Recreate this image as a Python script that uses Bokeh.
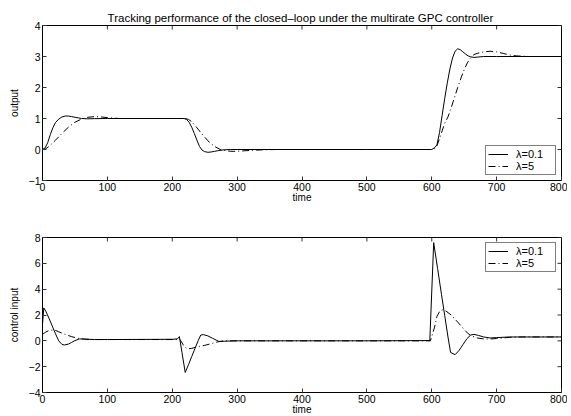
import math
from bokeh.plotting import figure
from bokeh.models import Range1d, Legend, LegendItem, FixedTicker
from bokeh.layouts import column
from bokeh.embed import file_html
from bokeh.resources import INLINE

# ---------------- data ----------------
x_ticks = [0, 100, 200, 300, 400, 500, 600, 700, 800]
y_ticks_out = [-1, 0, 1, 2, 3, 4]
y_ticks_u = [-4, -2, 0, 2, 4, 6, 8]

t_y01 = [0, 4, 8, 12, 16, 20, 25, 30, 35, 40, 45, 50, 55, 60, 70, 80, 100, 150, 200, 218,
         222, 226, 230, 234, 238, 242, 246, 250, 255, 260, 265, 270, 280, 290, 300, 400, 500, 600, 604, 608,
         612, 616, 620, 624, 628, 632, 636, 640, 644, 648, 652, 656, 660, 665, 670, 680, 700, 750, 800]
y01 = [0, 0.05, 0.22, 0.48, 0.7, 0.87, 0.98, 1.05, 1.08, 1.08, 1.06, 1.04, 1.02, 1.0, 0.99, 0.995, 1.0, 1.0, 1.0, 1.0,
       0.97, 0.88, 0.72, 0.52, 0.3, 0.1, -0.02, -0.07, -0.09, -0.08, -0.06, -0.04, -0.01, 0.0, 0.0, 0.0, 0.0, 0.0, 0.05, 0.15,
       0.55, 1.1, 1.65, 2.15, 2.6, 2.95, 3.17, 3.25, 3.22, 3.15, 3.08, 3.02, 2.99, 2.97, 2.98, 3.0, 3.0, 3.0, 3.0]

t_y5 = [0, 5, 10, 20, 30, 40, 50, 60, 70, 80, 90, 100, 110, 120, 200, 220, 225, 230, 235, 245,
        255, 265, 275, 285, 295, 305, 320, 340, 360, 400, 500, 600, 604, 608, 612, 616, 620, 625, 630, 635,
        640, 645, 650, 655, 660, 665, 670, 680, 690, 700, 710, 720, 730, 750, 800]
y5 = [0, 0.02, 0.1, 0.3, 0.52, 0.72, 0.88, 0.98, 1.04, 1.06, 1.05, 1.03, 1.01, 1.0, 1.0, 1.0, 0.97, 0.9, 0.78, 0.52,
      0.28, 0.1, -0.01, -0.05, -0.06, -0.05, -0.03, -0.01, 0.0, 0.0, 0.0, 0.0, 0.02, 0.12, 0.35, 0.6, 0.85, 1.05, 1.35, 1.67,
      2.0, 2.3, 2.58, 2.8, 2.96, 3.06, 3.1, 3.15, 3.17, 3.15, 3.1, 3.05, 3.02, 3.0, 3.0]

t_u01 = [0, 2, 5, 10, 15, 20, 25, 30, 34, 40, 45, 50, 57, 65, 80, 100, 200, 208, 211, 215,
         220, 225, 230, 235, 240, 244, 248, 255, 262, 272, 280, 300, 400, 500, 597, 603, 609, 615, 620, 625,
         629, 636, 642, 648, 654, 660, 665, 672, 680, 690, 700, 720, 800]
u01 = [1.3, 2.55, 2.3, 1.75, 1.15, 0.55, 0.0, -0.28, -0.32, -0.25, -0.12, 0.02, 0.15, 0.13, 0.1, 0.1, 0.12, 0.15, 0.33, -0.9,
       -2.45, -1.85, -1.22, -0.6, 0.02, 0.45, 0.48, 0.38, 0.2, -0.05, -0.03, 0.0, 0.0, 0.0, 0.02, 7.6, 5.6, 3.6, 1.95, 0.3,
       -0.9, -1.07, -0.75, -0.3, 0.15, 0.45, 0.5, 0.42, 0.3, 0.22, 0.25, 0.3, 0.3]

t_u5 = [0, 5, 10, 18, 25, 35, 45, 55, 65, 80, 100, 200, 212, 218, 223, 230, 240, 250, 260, 270,
        280, 300, 400, 500, 598, 604, 608, 613, 617, 622, 630, 640, 647, 653, 660, 670, 680, 690, 700, 720,
        740, 800]
u5 = [0.5, 0.68, 0.8, 0.85, 0.7, 0.5, 0.32, 0.2, 0.13, 0.1, 0.1, 0.1, 0.1, -0.4, -0.63, -0.58, -0.45, -0.35, -0.22, -0.08,
      0.0, 0.0, 0.0, 0.0, 0.0, 1.0, 1.9, 2.35, 2.4, 2.3, 2.0, 1.45, 1.05, 0.7, 0.4, 0.22, 0.15, 0.14, 0.18, 0.27,
      0.3, 0.3]

labels = ["λ=0.1", "λ=5"]
title_text = "Tracking performance of the closed\u2013loop under the multirate  GPC controller"

FONT = "Liberation Sans"
DASHDOT = "7 3 1 3"
TICK_COLOR = "#333333"


def style_axis(ax):
    ax.major_tick_in = 4
    ax.major_tick_out = 0
    ax.minor_tick_line_color = None
    ax.major_tick_line_color = TICK_COLOR
    ax.axis_line_color = "black"
    ax.major_label_text_font = FONT
    ax.major_label_text_font_size = "10.5px"
    ax.major_label_text_color = "black"
    ax.major_label_standoff = 2
    ax.axis_label_text_font = FONT
    ax.axis_label_text_font_size = "10px"
    ax.axis_label_text_font_style = "normal"
    ax.axis_label_text_color = "black"


def make_fig(ylo, yhi, yticks, ylabel, top_border, bottom_border, frame_h):
    p = figure(frame_width=519, frame_height=frame_h, output_backend="svg", toolbar_location=None,
               x_range=Range1d(0, 800), y_range=Range1d(ylo, yhi),
               min_border_left=42, min_border_right=6, min_border_top=top_border,
               min_border_bottom=bottom_border)
    p.grid.visible = False
    p.outline_line_color = "black"
    p.outline_line_width = 1
    p.background_fill_color = "white"
    p.border_fill_color = "white"
    p.xaxis.ticker = FixedTicker(ticks=x_ticks)
    p.yaxis.ticker = FixedTicker(ticks=yticks)
    p.xaxis.axis_label = "time"
    p.yaxis.axis_label = ylabel
    style_axis(p.xaxis[0])
    style_axis(p.yaxis[0])
    p.xaxis.axis_label_standoff = -2
    p.yaxis.axis_label_standoff = 6
    p.yaxis.major_label_overrides = {v: ("\u2212" + str(-v) if v < 0 else str(v)) for v in yticks}
    # inward ticks on the top and right edges of the box
    p.ray(x=x_ticks, y=[yhi] * len(x_ticks), length=4, length_units="screen",
          angle=-math.pi / 2, line_color=TICK_COLOR, line_width=1)
    p.ray(x=[800] * len(yticks), y=yticks, length=4, length_units="screen",
          angle=math.pi, line_color=TICK_COLOR, line_width=1)
    return p


def add_legend(p, rs, loc):
    leg = Legend(items=[LegendItem(label=labels[0], renderers=[rs[0]]),
                        LegendItem(label=labels[1], renderers=[rs[1]])],
                 location=loc)
    leg.border_line_color = "black"
    leg.border_line_width = 1
    leg.background_fill_color = "white"
    leg.background_fill_alpha = 1
    leg.label_text_font = FONT
    leg.label_text_font_size = "11px"
    leg.label_text_color = "black"
    leg.padding = 2
    leg.spacing = 0
    leg.margin = 5
    leg.glyph_width = 20
    leg.glyph_height = 12
    leg.label_height = 12
    leg.label_width = 37
    leg.label_standoff = 8
    p.add_layout(leg)


p1 = make_fig(-1, 4, y_ticks_out, "output", 25, 28, 155)
p1.title.text = title_text
p1.title.align = "center"
p1.title.text_font = FONT
p1.title.text_font_size = "11.5px"
p1.title.text_font_style = "normal"
p1.title.text_color = "black"
p1.title.standoff = 3
r1 = p1.line(t_y01, y01, line_color="black", line_width=1)
r2 = p1.line(t_y5, y5, line_color="black", line_width=1, line_dash=DASHDOT)
add_legend(p1, [r1, r2], "bottom_right")

p2 = make_fig(-4, 8, y_ticks_u, "control input", 29, 22, 155)
r3 = p2.line(t_u01, u01, line_color="black", line_width=1)
r4 = p2.line(t_u5, u5, line_color="black", line_width=1, line_dash=DASHDOT)
add_legend(p2, [r3, r4], "top_right")

layout = column(p1, p2, spacing=0)
open("out.html", "w").write(file_html(layout, INLINE))
